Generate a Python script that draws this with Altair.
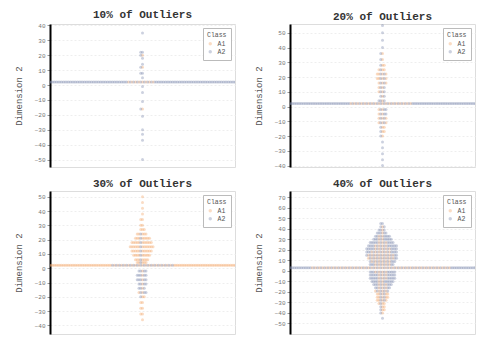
import altair as alt
import pandas as pd

# ---------------- data ----------------
panel_titles = ["10% of Outliers", "20% of Outliers", "30% of Outliers", "40% of Outliers"]
classes = ["A1", "A2"]
class_colors = ["#f3a76b", "#7f8db0"]

# inliers: one dense row per panel
inlier_y = [2, 2, 2, 3]
inlier_a1 = [8, 18, 95, 40]
inlier_a2 = [104, 94, 18, 72]

# outliers: rows of y-values with counts per class
p1_y = [35, 22, 20, 18, 14, 12, 8, 5, -1, -5, -11, -16, -21, -30, -33, -37, -50]
p1_a1 = [0, 0, 1, 0, 0, 1, 0, 0, 0, 0, 0, 1, 0, 0, 0, 0, 0]
p1_a2 = [1, 2, 1, 1, 1, 1, 2, 1, 1, 1, 1, 1, 1, 1, 1, 1, 1]

p2_y = [55, 50, 45, 40, 36, 32, 28, 25, 22, 19, 16, 13, 10, 7, 4, -2, -5, -8, -11, -14, -17, -20, -24, -28, -32, -36, -40]
p2_a1 = [0, 0, 0, 0, 1, 1, 2, 3, 4, 4, 3, 2, 2, 1, 1, 2, 2, 3, 3, 2, 2, 1, 0, 0, 0, 0, 0]
p2_a2 = [1, 1, 1, 1, 1, 1, 1, 1, 2, 2, 2, 2, 2, 2, 3, 3, 3, 2, 2, 1, 1, 1, 1, 1, 1, 1, 1]

p3_y = [50, 46, 42, 38, 34, 30, 27, 24, 21, 18, 15, 12, 9, 6, 4, -2, -5, -8, -11, -14, -17, -20, -24, -28, -32, -36]
p3_a1 = [1, 1, 1, 1, 2, 2, 3, 5, 8, 11, 13, 11, 9, 7, 5, 1, 1, 1, 1, 1, 2, 2, 2, 2, 2, 1]
p3_a2 = [0, 0, 0, 0, 0, 0, 0, 1, 1, 1, 1, 1, 1, 1, 1, 4, 5, 5, 4, 3, 3, 1, 0, 0, 0, 0]

p4_y = [45, 42, 39, 36, 33, 30, 27, 24, 21, 18, 15, 12, 9, 6, -1, -4, -7, -10, -13, -16, -19, -22, -25, -28, -31, -34, -37, -40, -45]
p4_a1 = [0, 1, 1, 1, 2, 2, 3, 4, 5, 6, 8, 8, 6, 5, 4, 3, 3, 2, 3, 3, 4, 5, 5, 4, 3, 2, 2, 1, 0]
p4_a2 = [2, 2, 3, 5, 7, 9, 11, 13, 13, 12, 10, 9, 9, 9, 11, 12, 12, 11, 8, 6, 4, 2, 2, 2, 1, 1, 1, 1, 1]

outliers = [(p1_y, p1_a1, p1_a2), (p2_y, p2_a1, p2_a2), (p3_y, p3_a1, p3_a2), (p4_y, p4_a1, p4_a2)]

y_domains = [[-55, 41], [-41, 56], [-46, 54], [-60, 76]]
y_ticks = [
    [-50, -40, -30, -20, -10, 0, 10, 20, 30, 40],
    [-40, -30, -20, -10, 0, 10, 20, 30, 40, 50],
    [-40, -30, -20, -10, 0, 10, 20, 30, 40, 50],
    [-50, -40, -30, -20, -10, 0, 10, 20, 30, 40, 50, 60, 70],
]

# ---------------- build table ----------------
rows = []
for p in range(4):
    ys = [inlier_y[p]] + outliers[p][0]
    a1 = [inlier_a1[p]] + outliers[p][1]
    a2 = [inlier_a2[p]] + outliers[p][2]
    for y, n1, n2 in zip(ys, a1, a2):
        for k in range(n1):
            rows.append({"panel": p, "cls": "A1", "y": y, "k": k})
        for k in range(n2):
            rows.append({"panel": p, "cls": "A2", "y": y, "k": k})
df = pd.DataFrame(rows)

MONO = "Liberation Mono"


def make_panel(p):
    return (
        alt.Chart(df[df.panel == p])
        .transform_calculate(
            s="2 * datum.k + ((datum.k % 2 == 0) == (datum.cls == 'A1') ? 0 : 1)"
        )
        .transform_window(
            r="row_number()",
            groupby=["y"],
            sort=[alt.SortField("s")],
        )
        .transform_calculate(xo="(datum.r % 2 == 1 ? 1 : -1) * floor(datum.r / 2) * 1.9")
        .mark_circle(size=9, opacity=0.4, clip=True)
        .encode(
            x=alt.X("xo:Q", scale=alt.Scale(domain=[-100, 100]), axis=None),
            y=alt.Y(
                "y:Q",
                scale=alt.Scale(domain=y_domains[p], nice=False, zero=False),
                axis=alt.Axis(values=y_ticks[p], title="Dimension 2"),
            ),
            color=alt.Color(
                "cls:N",
                scale=alt.Scale(domain=classes, range=class_colors),
                legend=alt.Legend(
                    title="Class",
                    orient="top-right",
                    offset=4,
                    fillColor="white",
                    strokeColor="#bbbbbb",
                    padding=4,
                    titleFont=MONO,
                    titleFontSize=6.5,
                    titleFontWeight="normal",
                    titleColor="#555",
                    labelFont=MONO,
                    labelFontSize=6.5,
                    labelColor="#555",
                    symbolSize=12,
                    rowPadding=1,
                    titlePadding=2,
                ),
            ),
        )
        .properties(
            width=185,
            height=143,
            title=alt.TitleParams(
                panel_titles[p], font=MONO, fontSize=11, fontWeight="bold",
                color="#333", offset=2,
            ),
        )
    )


top = alt.hconcat(make_panel(0), make_panel(1), spacing=17).resolve_scale(color="independent")
bottom = alt.hconcat(make_panel(2), make_panel(3), spacing=17).resolve_scale(color="independent")

chart = (
    alt.vconcat(top, bottom, spacing=7)
    .resolve_scale(color="independent")
    .properties(padding={"left": 5, "top": 0, "right": 0, "bottom": 0})
    .configure_view(stroke="#dddddd")
    .configure_axis(
        domainColor="#000000",
        domainWidth=2,
        tickColor="#999999",
        tickSize=3,
        labelFont=MONO,
        labelFontSize=6,
        labelColor="#777777",
        labelPadding=2,
        titleFont=MONO,
        titleFontSize=9,
        titleFontWeight="normal",
        titleColor="#555555",
        titlePadding=11,
        grid=True,
        gridColor="#eeeeee",
        gridDash=[2, 2],
    )
)

chart.save("out.html", embed_options={"renderer": "svg", "actions": False})
